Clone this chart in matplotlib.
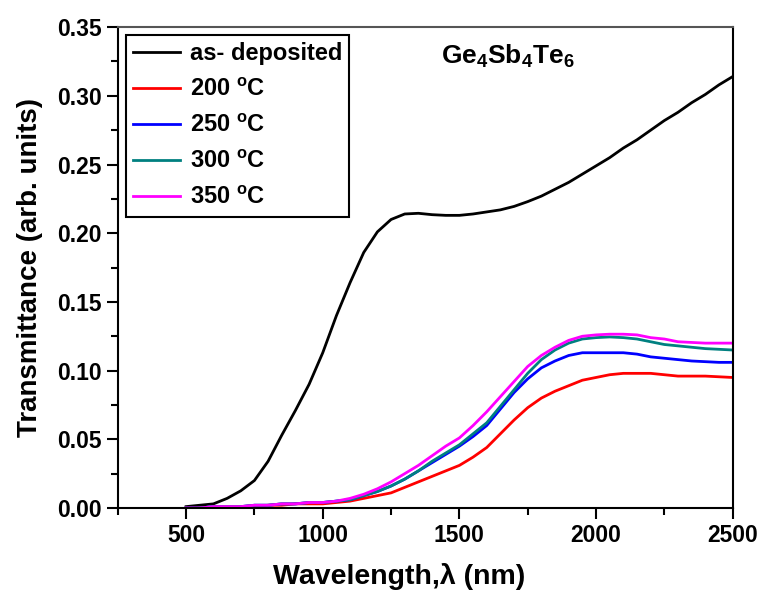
import numpy as np
import matplotlib
matplotlib.use("Agg")
import matplotlib.pyplot as plt
from matplotlib.ticker import MultipleLocator

plt.rcParams['font.family'] = ['Liberation Sans', 'DejaVu Sans']
plt.rcParams['font.weight'] = 'bold'
plt.rcParams['mathtext.default'] = 'regular'

# longueur d'onde (nm)
wl = [500, 550, 600, 650, 700, 750, 800, 850, 900, 950, 1000, 1050, 1100, 1150, 1200,
      1250, 1300, 1350, 1400, 1450, 1500, 1550, 1600, 1650, 1700, 1750, 1800, 1850,
      1900, 1950, 2000, 2050, 2100, 2150, 2200, 2250, 2300, 2350, 2400, 2450, 2500]

as_dep = [0.001, 0.002, 0.003, 0.007, 0.0125, 0.020, 0.034, 0.053, 0.071, 0.090, 0.113,
          0.140, 0.164, 0.186, 0.201, 0.210, 0.214, 0.2145, 0.2135, 0.213, 0.213, 0.214,
          0.2155, 0.217, 0.2195, 0.223, 0.227, 0.232, 0.237, 0.243, 0.249, 0.255, 0.262,
          0.268, 0.275, 0.282, 0.288, 0.295, 0.301, 0.308, 0.314]

t200 = [0.000, 0.000, 0.000, 0.001, 0.001, 0.001, 0.002, 0.002, 0.003, 0.003, 0.003,
        0.004, 0.005, 0.007, 0.009, 0.011, 0.015, 0.019, 0.023, 0.027, 0.031, 0.037,
        0.044, 0.054, 0.064, 0.073, 0.080, 0.085, 0.089, 0.093, 0.095, 0.097, 0.098,
        0.098, 0.098, 0.097, 0.096, 0.096, 0.096, 0.0955, 0.095]

t250 = [0.000, 0.000, 0.001, 0.001, 0.001, 0.002, 0.002, 0.003, 0.003, 0.004, 0.004,
        0.005, 0.006, 0.009, 0.012, 0.016, 0.021, 0.027, 0.033, 0.039, 0.045, 0.052,
        0.060, 0.072, 0.084, 0.094, 0.102, 0.107, 0.111, 0.113, 0.113, 0.113, 0.113,
        0.112, 0.110, 0.109, 0.108, 0.107, 0.1065, 0.106, 0.106]

t300 = [0.000, 0.000, 0.001, 0.001, 0.001, 0.002, 0.002, 0.003, 0.003, 0.004, 0.004,
        0.005, 0.006, 0.009, 0.012, 0.016, 0.021, 0.027, 0.034, 0.040, 0.046, 0.054,
        0.062, 0.074, 0.086, 0.098, 0.108, 0.115, 0.120, 0.123, 0.124, 0.1245, 0.124,
        0.123, 0.121, 0.119, 0.118, 0.117, 0.116, 0.1155, 0.115]

t350 = [0.000, 0.000, 0.001, 0.001, 0.001, 0.002, 0.002, 0.003, 0.003, 0.004, 0.004,
        0.005, 0.007, 0.010, 0.014, 0.019, 0.025, 0.031, 0.038, 0.045, 0.051, 0.060,
        0.070, 0.081, 0.092, 0.103, 0.111, 0.117, 0.122, 0.125, 0.126, 0.1265, 0.1265,
        0.126, 0.124, 0.123, 0.121, 0.1205, 0.120, 0.120, 0.120]

labels = ['as- deposited', '200 $^o$C', '250 $^o$C', '300 $^o$C', '350 $^o$C']
colors = ['black', 'red', 'blue', '#008080', 'magenta']
series = [as_dep, t200, t250, t300, t350]

fig = plt.figure(figsize=(7.6, 5.9), dpi=100)
ax = fig.add_axes([0.155, 0.139, 0.809, 0.815])

for y, lab, c in zip(series, labels, colors):
    ax.plot(wl, y, color=c, lw=2, label=lab)

ax.set_xlim(250, 2500)
ax.set_ylim(0, 0.35)
ax.xaxis.set_major_locator(MultipleLocator(500))
ax.xaxis.set_minor_locator(MultipleLocator(250))
ax.yaxis.set_major_locator(MultipleLocator(0.05))
ax.yaxis.set_minor_locator(MultipleLocator(0.025))
ax.yaxis.set_major_formatter(plt.FormatStrFormatter('%.2f'))
ax.tick_params(which='major', direction='out', length=8, width=1.5, labelsize=16.5)
ax.tick_params(which='minor', direction='out', length=5, width=1.5)
ax.tick_params(top=False, right=False)
for s in ax.spines.values():
    s.set_linewidth(1.5)
ax.spines['top'].set_color('#555555')

ax.set_xlabel('Wavelength,λ (nm)', fontsize=20.5, fontweight='bold')
ax.xaxis.set_label_coords(0.457, -0.115)
ax.set_ylabel('Transmittance (arb. units)', fontsize=20, fontweight='bold', labelpad=10)

ax.text(0.635, 0.94, 'Ge$_4$Sb$_4$Te$_6$', transform=ax.transAxes, fontsize=19,
        fontweight='bold', ha='center', va='center')

leg = ax.legend(loc='upper left', bbox_to_anchor=(0.0, 1.0), fontsize=17,
                handlelength=2.0, handletextpad=0.4, labelspacing=0.55,
                borderaxespad=0.35, borderpad=0.3, fancybox=False, framealpha=1)
leg.get_frame().set_edgecolor('black')
leg.get_frame().set_linewidth(1.5)

fig.savefig('out.png', dpi=100)
